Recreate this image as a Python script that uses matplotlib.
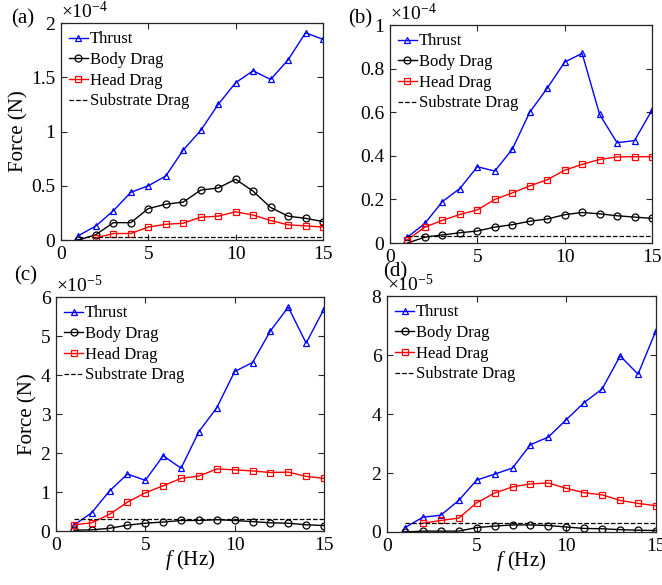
import matplotlib
matplotlib.use('Agg')
import matplotlib.pyplot as plt
from matplotlib.ticker import FuncFormatter

plt.rcParams['font.family'] = ['Liberation Serif', 'DejaVu Serif']
plt.rcParams['mathtext.fontset'] = 'custom'
plt.rcParams['mathtext.rm'] = 'Liberation Serif'
plt.rcParams['mathtext.it'] = 'Liberation Serif:italic'

freq = list(range(1, 16))
freq_head_a = list(range(2, 16))
freq_head_d = list(range(2, 16))

# panel (a), values in units of 1e-4 N
thrust_a = [0.04, 0.13, 0.27, 0.44, 0.50, 0.59, 0.83, 1.01, 1.25, 1.45, 1.56, 1.48, 1.66, 1.91, 1.85]
body_a = [0.0, 0.05, 0.16, 0.16, 0.29, 0.33, 0.35, 0.46, 0.48, 0.56, 0.45, 0.30, 0.22, 0.20, 0.17]
head_a = [0.02, 0.06, 0.06, 0.12, 0.145, 0.155, 0.21, 0.22, 0.26, 0.23, 0.18, 0.14, 0.13, 0.12]
substrate_a = 0.03

# panel (b), units of 1e-4 N
thrust_b = [0.027, 0.09, 0.19, 0.25, 0.35, 0.33, 0.43, 0.60, 0.71, 0.83, 0.87, 0.59, 0.46, 0.47, 0.61]
body_b = [0.0, 0.027, 0.037, 0.047, 0.055, 0.073, 0.084, 0.10, 0.11, 0.13, 0.14, 0.134, 0.125, 0.119, 0.113]
head_b = [0.015, 0.073, 0.104, 0.131, 0.152, 0.20, 0.23, 0.262, 0.29, 0.334, 0.361, 0.383, 0.395, 0.396, 0.396]
substrate_b = 0.03

# panel (c), units of 1e-5 N
thrust_c = [0.15, 0.47, 1.03, 1.46, 1.30, 1.93, 1.61, 2.55, 3.16, 4.09, 4.32, 5.13, 5.74, 4.82, 5.69]
body_c = [0.02, 0.03, 0.07, 0.15, 0.20, 0.23, 0.27, 0.27, 0.29, 0.27, 0.24, 0.21, 0.20, 0.16, 0.14]
head_c = [0.16, 0.21, 0.43, 0.74, 0.98, 1.16, 1.35, 1.41, 1.59, 1.57, 1.54, 1.50, 1.51, 1.40, 1.35]
substrate_c = 0.30

# panel (d), units of 1e-5 N
thrust_d = [0.15, 0.50, 0.57, 1.07, 1.76, 1.96, 2.17, 2.96, 3.22, 3.81, 4.39, 4.85, 5.97, 5.35, 6.83]
body_d = [0.0, 0.03, 0.03, 0.03, 0.15, 0.20, 0.24, 0.24, 0.22, 0.17, 0.12, 0.11, 0.08, 0.06, 0.05]
head_d = [0.30, 0.39, 0.47, 0.99, 1.32, 1.53, 1.63, 1.66, 1.48, 1.33, 1.26, 1.07, 0.97, 0.89]
substrate_d = 0.31

panels = [
    ('(a)', thrust_a, body_a, freq_head_a, head_a, substrate_a, [0, 0.5, 1, 1.5, 2], '-4'),
    ('(b)', thrust_b, body_b, freq, head_b, substrate_b, [0, 0.2, 0.4, 0.6, 0.8, 1], '-4'),
    ('(c)', thrust_c, body_c, freq, head_c, substrate_c, [0, 1, 2, 3, 4, 5, 6], '-5'),
    ('(d)', thrust_d, body_d, freq_head_d, head_d, substrate_d, [0, 2, 4, 6, 8], '-5'),
]

positions = [
    [0.0921, 0.5897, 0.3958, 0.3709],
    [0.5891, 0.5846, 0.3958, 0.3726],
    [0.0846, 0.0923, 0.4048, 0.4000],
    [0.5846, 0.0906, 0.4063, 0.4034],
]
label_xy = [(0.035, 0.967), (0.544, 0.967), (0.038, 0.528), (0.597, 0.535)]

fig = plt.figure(figsize=(6.62, 5.85), dpi=100)
edge = '#262626'

for i, (name, thr, bod, fh, hed, sub, yt, expo) in enumerate(panels):
    ax = fig.add_axes(positions[i])
    ax.plot(freq, thr, '-^', color='#0000ff', lw=1, ms=5, mfc='none', mew=0.9, label='Thrust')
    ax.plot(freq, bod, '-o', color='black', lw=1, ms=5, mfc='none', mew=0.9, label='Body Drag')
    ax.plot(fh, hed, '-s', color='#ff0000', lw=1, ms=4.5, mfc='none', mew=0.9, label='Head Drag')
    ax.plot([1, 15], [sub, sub], '--', color='black', lw=0.9, label='Substrate Drag')

    ax.set_xlim(0, 15)
    ax.set_ylim(yt[0], yt[-1])
    ax.set_xticks([0, 5, 10, 15])
    ax.set_yticks(yt)
    ax.yaxis.set_major_formatter(FuncFormatter(lambda v, p: '%g' % v))
    ax.tick_params(direction='in', length=4, width=0.8, top=True, right=True,
                   labelsize=14, colors=edge, labelcolor='black', pad=4)
    for s in ax.spines.values():
        s.set_color(edge)
        s.set_linewidth(0.9)

    ax.text(0.0, 1.005, r'$\times$10$^{%s}$' % expo, transform=ax.transAxes,
            fontsize=14, ha='left', va='bottom')
    fig.text(label_xy[i][0], label_xy[i][1], name, fontsize=15, ha='center', va='center')

    ax.legend(loc='upper left', frameon=False, fontsize=12, handlelength=1.1,
              handletextpad=0.15, labelspacing=0.28, borderaxespad=0.3,
              borderpad=0.2)

    if i in (0, 2):
        ax.set_ylabel('Force (N)', fontsize=15, labelpad=2)
    if i in (2, 3):
        ax.set_xlabel(r'$f$ (Hz)', fontsize=15, labelpad=-4)

fig.savefig('out.png', dpi=100)
